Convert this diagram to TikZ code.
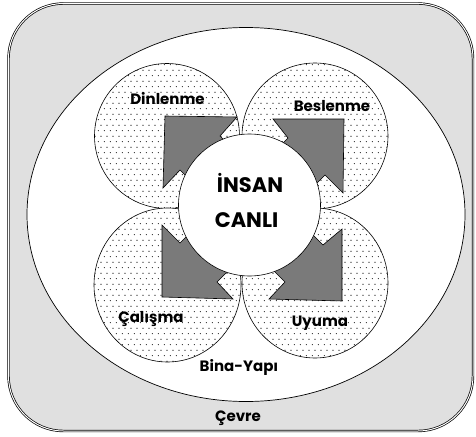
\documentclass[tikz,border=0pt]{standalone}
\usepackage{fontspec}
\setmainfont{Poppins}
\usetikzlibrary{patterns.meta}

\tikzdeclarepattern{
  name=sparsedots,
  type=uncolored,
  bounding box={(0pt,0pt) and (5.7pt,11.4pt)},
  tile size={(5.7pt,11.4pt)},
  code={
    \fill (1.4pt,1.4pt) circle [radius=0.6pt];
    \fill (4.25pt,7.1pt) circle [radius=0.6pt];
  }
}

\tikzset{
  needcircle/.style={draw=black, line width=0.6pt, fill=white, postaction={pattern=sparsedots, pattern color=black}},
  needarrow/.style={draw=black, line width=0.6pt, fill=black!52},
  lbl/.style={font=\fontsize{15}{17}\selectfont\bfseries, inner sep=0pt, anchor=base},
  biglbl/.style={font=\fontsize{21}{23}\selectfont\bfseries, inner sep=0pt, anchor=base},
}

\begin{document}
\begin{tikzpicture}[x=1pt, y=-1pt]
  \useasboundingbox (0,0) rectangle (476,436);

  % environment
  \draw [double, double distance=1pt, line width=0.7pt, fill=black!12, rounded corners=55pt] (8.5,3.5) rectangle (473,431);

  % building
  \draw [fill=white, line width=0.7pt] (246,214.5) ellipse [x radius=219, y radius=187];

  % needs
  \path [needcircle] (167,136) circle [radius=72.5];
  \path [needcircle] (315,136) circle [radius=73];
  \path [needcircle] (167.5,285) ellipse [x radius=73.5, y radius=77];
  \path [needcircle] (315,283) ellipse [x radius=73, y radius=75];

  % arrows from the centre
  \draw [needarrow] (165,116) -- (237,117) -- (220,136) -- (260,176) -- (220,210) -- (180,170) -- (163,188) -- cycle;
  \draw [needarrow] (344,119) -- (273,119) -- (288,138) -- (248,178) -- (285,215) -- (325,175) -- (343,193) -- cycle;
  \draw [needarrow] (162,297) -- (162,225) -- (180,243) -- (220,203) -- (257,242) -- (217,282) -- (233,299) -- cycle;
  \draw [needarrow] (342,301) -- (342,229) -- (323,245) -- (283,205) -- (245,242) -- (285,282) -- (269,299) -- cycle;

  % human
  \node [draw, circle, fill=white, line width=0.6pt, minimum size=142pt, inner sep=0pt] (human) at (249.5,205) {};
  \node [biglbl] (humanA) at (250,192) {İNSAN};
  \node [biglbl] (humanB) at (246.5,227) {CANLI};

  % labels
  \node [lbl] (rest) at (167.5,104) {Dinlenme};
  \node [lbl] (food) at (332,111) {Beslenme};
  \node [lbl] (work) at (151,322) {Çalışma};
  \node [lbl] (sleep) at (320,326) {Uyuma};
  \node [lbl] (house) at (239,371) {Bina-Yapı};
  \node [lbl] (env) at (238,421) {Çevre};

\end{tikzpicture}
\end{document}
